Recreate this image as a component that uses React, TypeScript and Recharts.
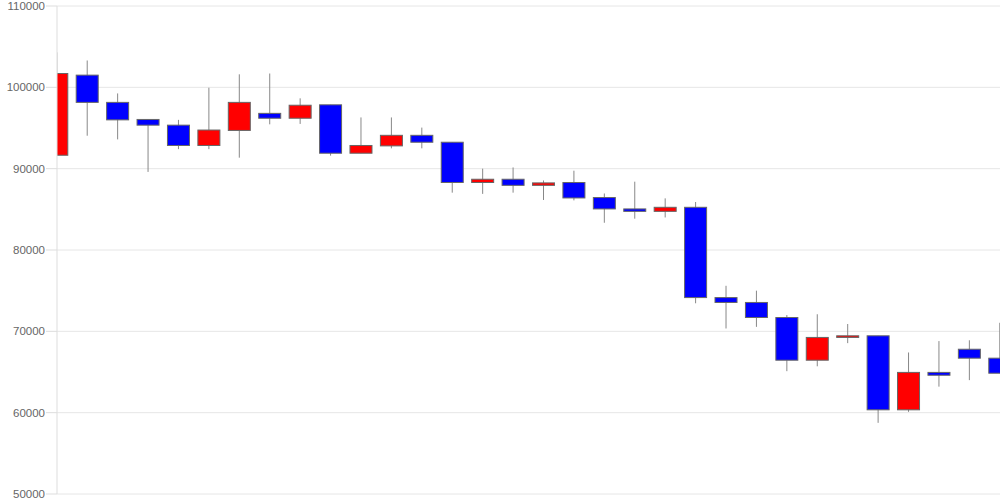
import React from "react";
import { ComposedChart, Bar, XAxis, YAxis, CartesianGrid } from "recharts";

const categories = [0, 1, 2, 3, 4, 5, 6, 7, 8, 9, 10, 11, 12, 13, 14, 15, 16, 17, 18, 19, 20, 21, 22, 23, 24, 25, 26, 27, 28, 29, 30, 31];
const openValues = [91650, 101500, 98150, 96050, 95350, 92850, 94700, 96800, 96200, 97850, 91900, 92800, 94100, 93250, 88300, 88700, 87950, 88300, 86450, 85050, 84750, 85250, 74150, 73550, 71700, 66450, 69250, 69450, 60350, 64950, 67800, 66700];
const closeValues = [101700, 98150, 96000, 95350, 92850, 94750, 98150, 96200, 97800, 91900, 92850, 94100, 93250, 88300, 88700, 87950, 88250, 86400, 85050, 84750, 85250, 74150, 73550, 71700, 66450, 69250, 69450, 60350, 64950, 64600, 66700, 64850];
const highValues = [104300, 103300, 99250, 96050, 96000, 99950, 101600, 101700, 98650, 97850, 96300, 96300, 95050, 93250, 90000, 90150, 88550, 89750, 86950, 88400, 86350, 85900, 75600, 75000, 72000, 72100, 70900, 69450, 67400, 68800, 68900, 71050];
const lowValues = [91650, 94050, 93600, 89600, 92400, 92400, 91350, 95450, 95500, 91600, 91900, 92500, 92500, 87050, 86900, 87050, 86150, 86100, 83350, 83850, 84000, 73450, 70350, 70550, 65100, 65700, 68550, 58750, 60100, 63200, 64000, 64850];
const yTicks = [50000, 60000, 70000, 80000, 90000, 100000, 110000];

const data = categories.map((c, i) => ({
  idx: c,
  open: openValues[i],
  close: closeValues[i],
  high: highValues[i],
  low: lowValues[i],
  wick: [lowValues[i], highValues[i]],
}));

const Candle = (props: any) => {
  const { x, y, width, height, payload } = props;
  if (!payload) return null;
  const { open, close, high, low } = payload;
  const top = Math.min(y, y + height);
  const h = Math.abs(height);
  const ratio = high - low > 0 ? h / (high - low) : 0;
  const bodyTop = top + (high - Math.max(open, close)) * ratio;
  const bodyBottom = top + (high - Math.min(open, close)) * ratio;
  const cx = x + width / 2;
  const up = close >= open;
  return (
    <g>
      <line x1={cx} x2={cx} y1={top} y2={top + h} stroke="#888" strokeWidth={1} />
      <rect
        x={x}
        y={bodyTop}
        width={width}
        height={Math.max(bodyBottom - bodyTop, 1)}
        fill={up ? "#ff0000" : "#0000ff"}
        stroke="#666"
        strokeWidth={1}
      />
    </g>
  );
};

export default function App() {
  return (
    <div style={{ position: "absolute", left: 0, top: 0, background: "#fff" }}>
      <ComposedChart
        width={1000}
        height={500}
        data={data}
        margin={{ top: 6, right: 0, bottom: 6, left: 0 }}
        style={{ fontFamily: "'Liberation Sans', Arial, sans-serif" }}
      >
        <CartesianGrid vertical={false} stroke="#e6e6e6" />
        <XAxis dataKey="idx" type="number" domain={[0, 31]} hide allowDataOverflow />
        <YAxis
          domain={[50000, 110000]}
          ticks={yTicks}
          allowDataOverflow
          width={57}
          tickSize={11}
          tickMargin={1}
          interval={0}
          axisLine={{ stroke: "#ddd" }}
          tickLine={{ stroke: "#ddd" }}
          tick={{ fill: "#666", fontSize: 11.5 }}
        />
        <Bar dataKey="wick" barSize={22} shape={Candle} isAnimationActive={false} />
      </ComposedChart>
    </div>
  );
}
